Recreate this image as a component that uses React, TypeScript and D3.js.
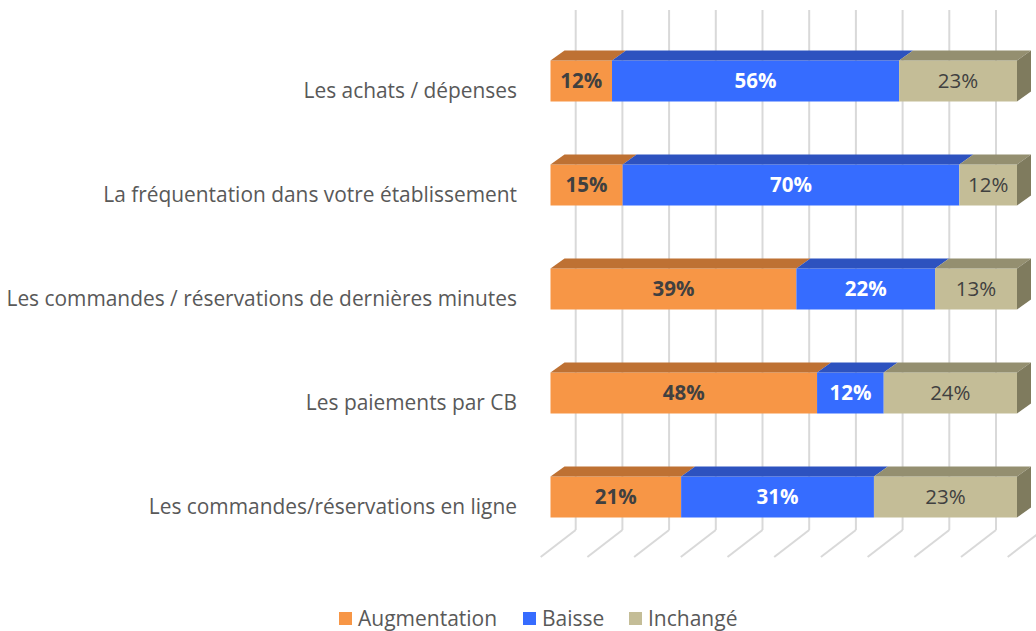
import React from "react";
import { scaleLinear, scalePoint, sum } from "d3";

const categories = [
  "Les achats / dépenses",
  "La fréquentation dans votre établissement",
  "Les commandes / réservations de dernières minutes",
  "Les paiements par CB",
  "Les commandes/réservations en ligne",
];
const augmentation = [12, 15, 39, 48, 21];
const baisse = [56, 70, 22, 12, 31];
const inchange = [23, 12, 13, 24, 23];
const seriesNames = ["Augmentation", "Baisse", "Inchangé"];
const gridTicks = [0, 0.1, 0.2, 0.3, 0.4, 0.5, 0.6, 0.7, 0.8, 0.9, 1];

const front = ["#F79646", "#366CFF", "#C4BD97"];
const tops = ["#BE7133", "#2D52BF", "#948F70"];
const sideTan = "#7F7B5E";
const labelColor = ["#404040", "#ffffff", "#404040"];
const labelWeight = [700, 700, 400];

const FONT = "'Open Sans', 'Noto Sans', sans-serif";

export default function App() {
  const width = 1036;
  const height = 631;
  const depthX = 14;
  const depthY = -10;
  const barH = 41;

  const x = scaleLinear().domain([0, 1]).range([550.5, 1017]);
  const xBack = scaleLinear().domain([0, 1]).range([575.7, 1042.7]);
  const y = scalePoint<string>().domain(categories).range([81, 497]);

  const rows = categories.map((c, i) => {
    const vals = [augmentation[i], baisse[i], inchange[i]];
    const total = sum(vals);
    let acc = 0;
    const segs = vals.map((v, k) => {
      const s = { k, v, x0: acc / total, x1: (acc + v) / total };
      acc += v;
      return s;
    });
    return { c, segs };
  });

  return (
    <svg width={width} height={height} style={{ position: "absolute", left: 0, top: 0 }}>
      <rect width={width} height={height} fill="#ffffff" />
      {/* back wall + floor gridlines */}
      <g stroke="#d9d9d9" strokeWidth={2} fill="none">
        {gridTicks.map((t) => (
          <g key={t}>
            <line x1={xBack(t)} x2={xBack(t)} y1={10} y2={530} />
            <line x1={xBack(t)} y1={530} x2={xBack(t) - 35} y2={557} />
          </g>
        ))}
      </g>
      {rows.map((r) => {
        const cy = y(r.c)!;
        const top = cy - barH / 2;
        const bot = cy + barH / 2;
        return (
          <g key={r.c}>
            {r.segs.map((s) => {
              const a = x(s.x0);
              const b = x(s.x1);
              return (
                <g key={s.k}>
                  <rect x={a} y={top} width={b - a} height={barH} fill={front[s.k]} />
                  <path
                    d={`M${a},${top}L${b},${top}L${b + depthX},${top + depthY}L${a + depthX},${top + depthY}Z`}
                    fill={tops[s.k]}
                  />
                  {s.k === 2 && (
                    <path
                      d={`M${b},${top}L${b + depthX},${top + depthY}L${b + depthX},${bot + depthY}L${b},${bot}Z`}
                      fill={sideTan}
                    />
                  )}
                  <text
                    x={(a + b) / 2}
                    y={cy}
                    dy="0.36em"
                    textAnchor="middle"
                    fontFamily={FONT}
                    fontSize={20.5}
                    fontWeight={labelWeight[s.k]}
                    fill={labelColor[s.k]}
                  >
                    {s.v}%
                  </text>
                </g>
              );
            })}
            <text
              x={517}
              y={cy + 10}
              dy="0.35em"
              textAnchor="end"
              fontFamily={FONT}
              fontSize={20.9}
              fill="#595959"
            >
              {r.c}
            </text>
          </g>
        );
      })}
      {/* legend */}
      <g fontFamily={FONT} fontSize={21} fill="#595959">
        {seriesNames.map((n, i) => {
          const lx = [339, 523, 629][i];
          return (
            <g key={n}>
              <rect x={lx} y={612} width={13} height={13} fill={front[i]} />
              <text x={lx + 19} y={618.5} dy="0.35em">
                {n}
              </text>
            </g>
          );
        })}
      </g>
    </svg>
  );
}
